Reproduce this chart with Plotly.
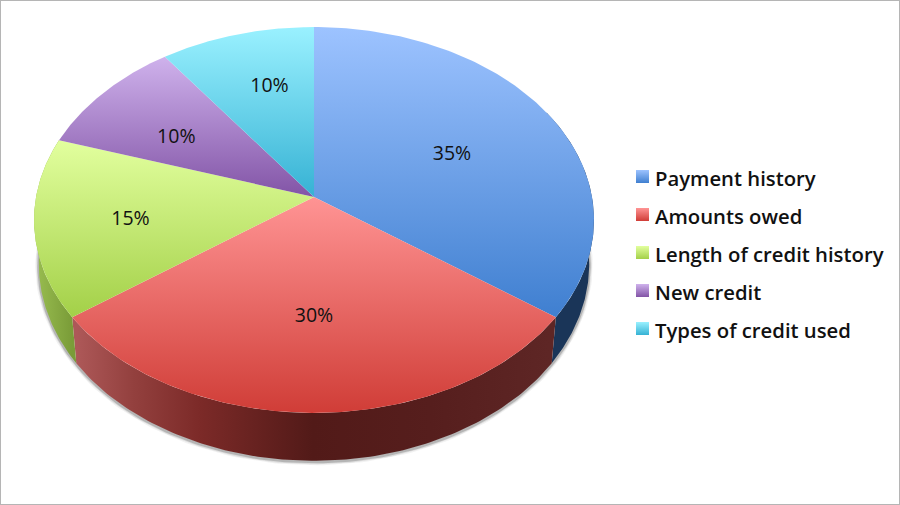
import numpy as np
import plotly.graph_objects as go

categories = ["Payment history", "Amounts owed", "Length of credit history", "New credit", "Types of credit used"]
shares = [35, 30, 15, 10, 10]
percent_labels = ["35%", "30%", "15%", "10%", "10%"]

# styling
TOP_COLORS = [("#9DC3FF", "#3F7FD0"), ("#FF9494", "#D03D37"), ("#E2FF9E", "#A3D048"), ("#CFB2EC", "#8254A6"), ("#9AF1FF", "#36B2D4")]
WALL_STOPS = [
    [[0, "#1A3558"], [1, "#1A3558"]],
    [[0, "#AD5858"], [0.12, "#93403E"], [0.26, "#7C2A28"], [0.5, "#521A18"], [0.75, "#561E1D"], [1, "#5E2625"]],
    [[0, "#96BA4E"], [1, "#7A9C38"]],
]
LABEL_R = [0.57, 0.58, 0.66, 0.63, 0.63]
LABEL_DX = [1, 0, 0, -2, 6]
LABEL_DY = [6, 2, 3, 9, -3]
CX, CY, A, B, K = 314.0, 197.0, 190.2, 278.0, 0.119
VISIBLE = (62.0, 298.0)
KEY_X, KEY_Y, KEY_STEP, KEY_TEXT_X = 642.5, 176.5, 38.0, 655.0


def project(theta_deg, r=1.0):
    t = np.radians(theta_deg)
    u, v = r * np.sin(t), r * np.cos(t)
    d = 1 + K * v
    return CX + B * u / d, CY - A * v / d


def lower(x, y):
    return CX + 0.983 * (x - CX), y + 46 + (y - 319) * 0.02


bounds = np.cumsum([0] + shares) / sum(shares) * 360
fig = go.Figure()

# soft shadow under the rim
th = np.linspace(VISIBLE[0], VISIBLE[1], 200)
sx, sy = lower(*project(th))
for w, op, dy in [(7, 0.06, 1.0), (5, 0.10, 1.0), (3, 0.22, 1.0)]:
    fig.add_trace(go.Scatter(x=sx, y=sy + dy, mode="lines", line=dict(color=f"rgba(40,40,40,{op})", width=w),
                             showlegend=False, hoverinfo="skip"))

# side walls
for i in range(3):
    a0, a1 = max(bounds[i], VISIBLE[0]), min(bounds[i + 1], VISIBLE[1])
    th = np.linspace(a0, a1, 120)
    tx, ty = project(th)
    bx, by = lower(tx, ty)
    fig.add_trace(go.Scatter(
        x=np.r_[tx, bx[::-1]], y=np.r_[ty, by[::-1]], mode="lines", fill="toself",
        line=dict(width=0, color="rgba(0,0,0,0)"),
        fillgradient=dict(type="horizontal", colorscale=WALL_STOPS[i], start=77, stop=549) if i == 1 else
        dict(type="horizontal", colorscale=WALL_STOPS[i], start=float(bx.min()), stop=float(tx.max())),
        showlegend=False, hoverinfo="skip"))

# top faces
for i, name in enumerate(categories):
    th = np.linspace(bounds[i], bounds[i + 1], 120)
    ax, ay = project(th)
    x = np.r_[CX, ax, CX]
    y = np.r_[CY, ay, CY]
    c0, c1 = TOP_COLORS[i]
    fig.add_trace(go.Scatter(
        x=x, y=y, mode="lines", fill="toself", name=name,
        line=dict(width=0, color="rgba(0,0,0,0)"),
        fillgradient=dict(type="vertical", colorscale=[[0, c0], [1, c1]], start=float(y.min()), stop=float(y.max())),
        showlegend=False, hoverinfo="skip"))

# percent labels
mid = (bounds[:-1] + bounds[1:]) / 2
lx, ly = zip(*[project(m, r) for m, r in zip(mid, LABEL_R)])
fig.add_trace(go.Scatter(x=np.array(lx) + np.array(LABEL_DX), y=np.array(ly) + np.array(LABEL_DY), mode="text",
                         text=percent_labels, showlegend=False, hoverinfo="skip",
                         textfont=dict(family="Open Sans", size=19.5, color="#111111")))

# key: gradient swatches and their labels
for i, name in enumerate(categories):
    c0, c1 = TOP_COLORS[i]
    fig.add_trace(go.Scatter(x=[KEY_X], y=[KEY_Y + i * KEY_STEP], mode="markers", name=name, showlegend=False,
                             marker=dict(symbol="square", size=13, color=c0, gradient=dict(type="vertical", color=c1)),
                             hoverinfo="skip"))
fig.add_trace(go.Scatter(x=[KEY_TEXT_X] * len(categories), y=[KEY_Y + 4.5 + i * KEY_STEP for i in range(len(categories))],
                         mode="text", text=categories, textposition="middle right", showlegend=False, hoverinfo="skip",
                         textfont=dict(family="Open Sans", size=20.3, weight=600, color="#111111")))

fig.update_layout(
    width=900, height=505, margin=dict(l=0, r=0, t=0, b=0), paper_bgcolor="white", plot_bgcolor="white",
    xaxis=dict(range=[0, 900], visible=False, fixedrange=True),
    yaxis=dict(range=[505, 0], visible=False, fixedrange=True),
    showlegend=False,
    shapes=[dict(type="rect", xref="paper", yref="paper", x0=0, x1=1, y0=0, y1=1, line=dict(color="#B5B5B5", width=2))],
)
fig.write_html("out.html", post_script="document.body.style.margin='0';", config={"displayModeBar": False})
